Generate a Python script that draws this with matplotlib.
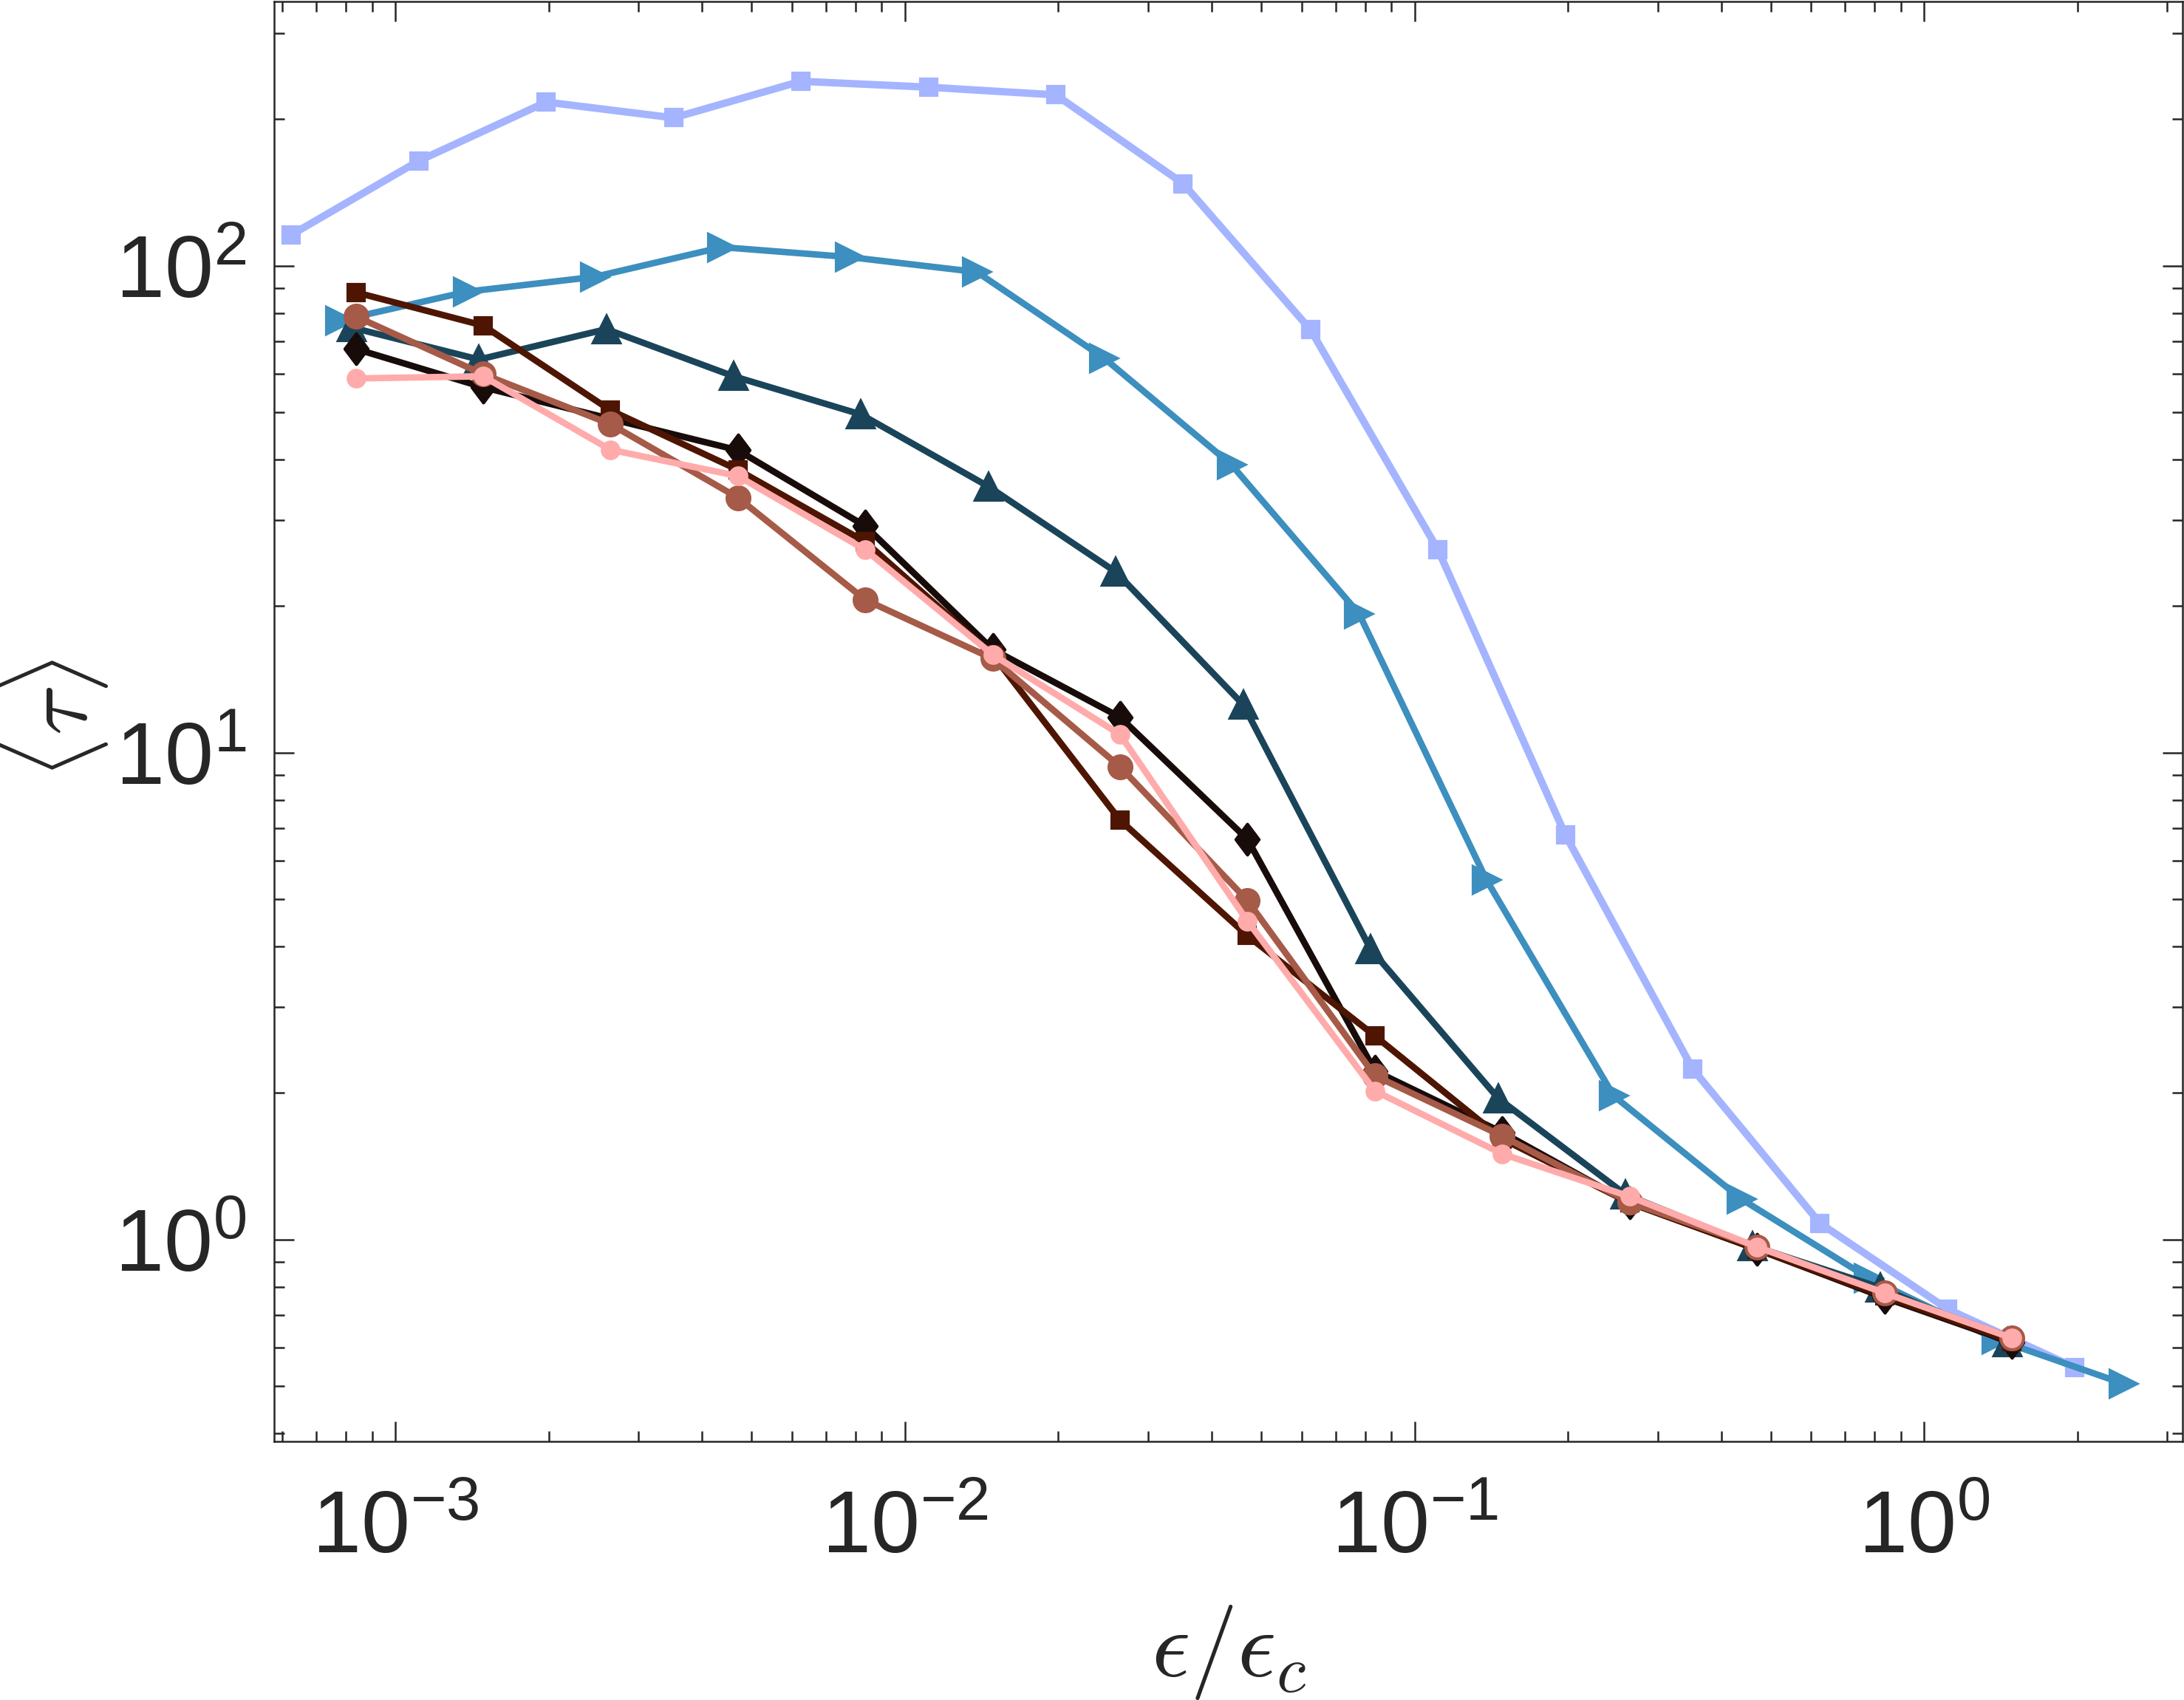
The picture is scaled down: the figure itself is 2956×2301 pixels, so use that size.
import matplotlib
matplotlib.use('Agg')
import matplotlib.pyplot as plt
from matplotlib.ticker import LogLocator, FuncFormatter, NullFormatter
from matplotlib.path import Path
import numpy as np

plt.rcParams['font.family'] = ['Liberation Sans', 'DejaVu Sans']
plt.rcParams['mathtext.fontset'] = 'custom'
plt.rcParams['mathtext.rm'] = 'Liberation Sans'
plt.rcParams['mathtext.it'] = 'Liberation Sans:italic'
plt.rcParams['mathtext.bf'] = 'Liberation Sans:bold'

# ---------------- data ----------------
x_lightblue = [6.25e-4, 1.112e-3, 1.977e-3, 3.516e-3, 6.25e-3, 0.01112, 0.01977, 0.03516,
               0.0625, 0.1112, 0.1977, 0.3516, 0.625, 1.112, 1.977]
y_lightblue = [115.8, 164.3, 216.9, 201.3, 239.3, 232.7, 224.4, 147.5,
               73.9, 26.1, 6.78, 2.24, 1.08, 0.720, 0.546]

x_blue = [7.78e-4, 1.384e-3, 2.46e-3, 4.375e-3, 7.78e-3, 0.01384, 0.0246, 0.04375,
          0.0778, 0.1384, 0.246, 0.4375, 0.778, 1.384, 2.46]
y_blue = [77.2, 88.5, 94.9, 109.2, 104.2, 97.1, 64.6, 39.0,
          19.3, 5.48, 1.973, 1.212, 0.834, 0.624, 0.506]

x_teal = [8.2e-4, 1.459e-3, 2.594e-3, 4.61e-3, 8.2e-3, 0.01459, 0.02594, 0.0461,
          0.082, 0.1459, 0.2594, 0.461, 0.82, 1.459]
y_teal = [74.7, 64.2, 74.1, 59.3, 49.5, 35.2, 23.5, 12.55,
          3.95, 1.951, 1.238, 0.970, 0.797, 0.615]

x_common = [8.36e-4, 1.486e-3, 2.642e-3, 4.70e-3, 8.36e-3, 0.01486, 0.02642, 0.0470,
            0.0836, 0.1486, 0.2642, 0.470, 0.836, 1.486]
y_diamond = [67.5, 56.3, 48.5, 41.8, 29.2, 16.3, 11.83, 6.64,
             2.22, 1.66, 1.19, 0.955, 0.76, 0.615]
y_darksq = [88.2, 75.4, 50.5, 38.1, 27.1, 15.9, 7.27, 4.21,
            2.62, 1.61, 1.19, 0.955, 0.765, 0.618]
y_browncirc = [78.7, 59.9, 47.3, 33.4, 20.6, 15.6, 9.36, 4.97,
               2.17, 1.632, 1.193, 0.966, 0.777, 0.628]
y_pink = [58.7, 59.3, 41.9, 37.0, 26.1, 15.9, 10.9, 4.51,
          2.02, 1.50, 1.226, 0.966, 0.777, 0.628]

xticks = [1e-3, 1e-2, 1e-1, 1e0]
yticks = [1e0, 1e1, 1e2]
xlim = (5.78e-4, 3.215)
ylim = (0.385, 349)

# ---------------- figure ----------------
W, H = 2956, 2301
dpi = 300
fig = plt.figure(figsize=(W / dpi, H / dpi), dpi=dpi)
L, R, T, B = 371, 2954, 2, 1951
ax = fig.add_axes([L / W, (H - B) / H, (R - L) / W, (B - T) / H])
ax.set_xscale('log')
ax.set_yscale('log')

diamond = Path([(0, 1), (0.75, 0), (0, -1), (-0.75, 0), (0, 1)],
               [Path.MOVETO, Path.LINETO, Path.LINETO, Path.LINETO, Path.CLOSEPOLY])

c_light = '#a4b4ff'
c_blue = '#3c8fbe'
c_teal = '#1a4459'
c_black = '#180c0a'
c_dark = '#4e1502'
c_brown = '#a65a48'
c_pink = '#ffabab'

lw = 2.1
ax.plot(x_lightblue, y_lightblue, '-', color=c_light, lw=2.4, marker='s', ms=5.2,
        mfc=c_light, mec=c_light, mew=1)
ax.plot(x_blue, y_blue, '-', color=c_blue, lw=lw, marker='>', ms=8.6,
        mfc=c_blue, mec=c_blue, mew=1)
ax.plot(x_teal, y_teal, '-', color=c_teal, lw=lw, marker='^', ms=8.6,
        mfc=c_teal, mec=c_teal, mew=1)
ax.plot(x_common, y_diamond, '-', color=c_black, lw=lw, marker=diamond, ms=10,
        mfc=c_black, mec=c_black, mew=1)
ax.plot(x_common, y_darksq, '-', color=c_dark, lw=lw, marker='s', ms=5.2,
        mfc=c_dark, mec=c_dark, mew=1)
ax.plot(x_common, y_browncirc, '-', color=c_brown, lw=lw, marker='o', ms=7.4,
        mfc=c_brown, mec=c_brown, mew=1)
ax.plot(x_common, y_pink, '-', color=c_pink, lw=lw, marker='o', ms=5.4,
        mfc=c_pink, mec=c_pink, mew=1)

ax.set_xlim(*xlim)
ax.set_ylim(*ylim)

axc = '#262626'
fmt = FuncFormatter(lambda v, p: r'$\mathregular{10^{%d}}$' % int(round(np.log10(v))))
ax.set_xticks(xticks)
ax.set_yticks(yticks)
ax.xaxis.set_major_formatter(fmt)
ax.yaxis.set_major_formatter(fmt)
ax.xaxis.set_minor_locator(LogLocator(base=10, subs=np.arange(2, 10), numticks=50))
ax.yaxis.set_minor_locator(LogLocator(base=10, subs=np.arange(2, 10), numticks=50))
ax.xaxis.set_minor_formatter(NullFormatter())
ax.yaxis.set_minor_formatter(NullFormatter())

ax.tick_params(which='both', direction='in', top=True, right=True, colors=axc,
               width=0.6, labelsize=28.5, labelcolor=axc)
ax.tick_params(which='major', length=6.5)
ax.tick_params(which='minor', length=3.4)
ax.tick_params(axis='x', which='major', pad=15.5)
ax.tick_params(axis='y', which='major', pad=9)
for s in ax.spines.values():
    s.set_color(axc)
    s.set_linewidth(0.6)

fig.text(1663 / W, (H - 2269) / H, r'$\epsilon/\epsilon_c$', fontsize=31,
         math_fontfamily='cm', ha='center', va='baseline', color=axc)
fig.text(118 / W, (H - 973) / H, r'$\langle\tau\rangle$', fontsize=30,
         math_fontfamily='cm', ha='center', va='baseline', rotation=90,
         rotation_mode='anchor', color=axc)

fig.savefig('out.png', dpi=dpi)
